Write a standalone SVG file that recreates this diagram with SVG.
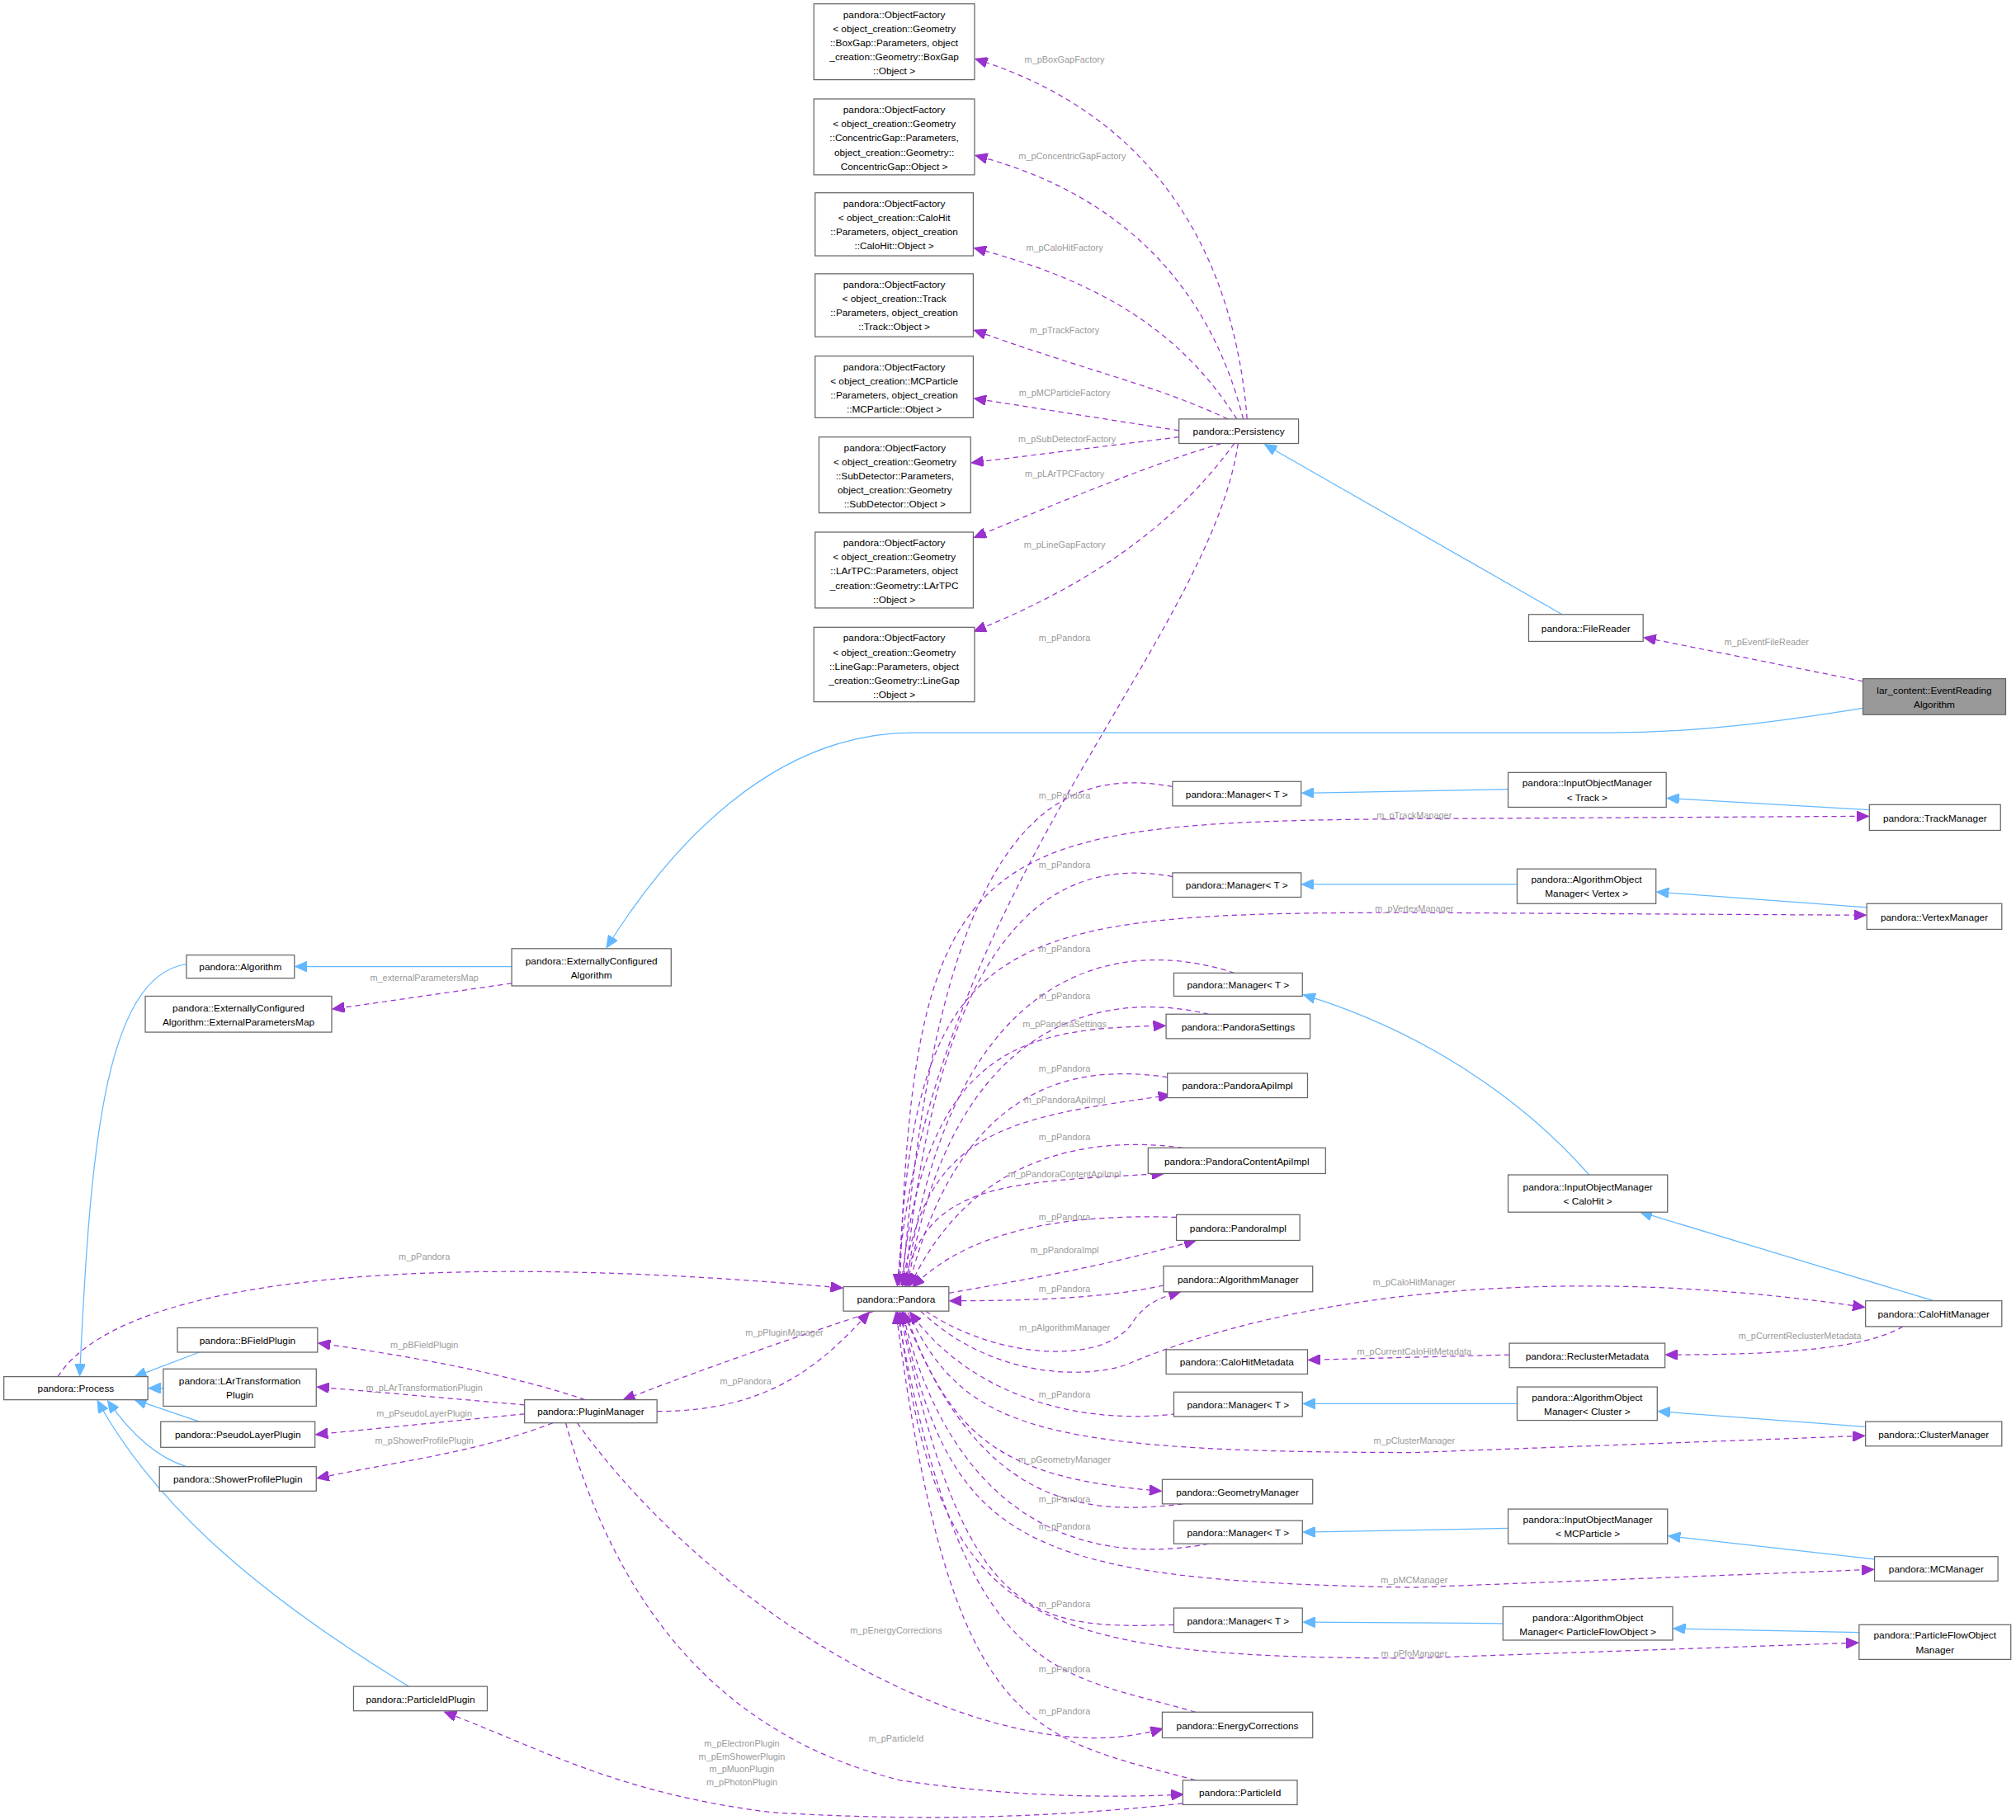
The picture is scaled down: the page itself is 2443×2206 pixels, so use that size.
<svg xmlns="http://www.w3.org/2000/svg" width="2443" height="2206" viewBox="0 0 2443 2206">
<style>
.n rect{fill:#fff;stroke:#666;stroke-width:0.8}
.n text{font-family:"Liberation Sans",Arial,sans-serif;font-size:7.6px;fill:#000;text-anchor:middle}
.b{fill:none;stroke:#63b8ff;stroke-width:0.8}
.p{fill:none;stroke:#9a32cd;stroke-width:0.8;stroke-dasharray:4,3}
.l{font-family:"Liberation Sans",Arial,sans-serif;font-size:7px;fill:#9a9a9a;text-anchor:middle}
</style>
<defs>
<marker id="ab" markerUnits="userSpaceOnUse" markerWidth="10" markerHeight="8" refX="9" refY="4" orient="auto"><path d="M0,0 L9,4 L0,8 z" fill="#63b8ff" stroke="#63b8ff"/></marker>
<marker id="ap" markerUnits="userSpaceOnUse" markerWidth="10" markerHeight="8" refX="9" refY="4" orient="auto"><path d="M0,0 L9,4 L0,8 z" fill="#9a32cd" stroke="#9a32cd"/></marker>
</defs>
<rect width="2443" height="2206" fill="#fff"/>
<g transform="scale(1.558)">
<g id="edges">
<!-- blue inheritance -->
<path class="b" marker-end="url(#ab)" d="M1215,478 L984,346"/>
<path class="b" marker-end="url(#ab)" d="M1449,551 C1380,562 1320,570 1250,570 L710,570 C600,570 520,660 472,737"/>
<path class="b" marker-end="url(#ab)" d="M398,752 L230,752"/>
<path class="b" marker-end="url(#ab)" d="M145,750 C80,760 70,900 62,1070"/>
<path class="b" marker-end="url(#ab)" d="M155,1052 L105,1071"/>
<path class="b" marker-end="url(#ab)" d="M127,1080 L116,1080"/>
<path class="b" marker-end="url(#ab)" d="M155,1106 L105,1089"/>
<path class="b" marker-end="url(#ab)" d="M145,1141 C125,1135 105,1120 84,1090"/>
<path class="b" marker-end="url(#ab)" d="M318,1312 C200,1240 120,1170 76,1090"/>
<path class="b" marker-end="url(#ab)" d="M1173,614 L1013,617"/>
<path class="b" marker-end="url(#ab)" d="M1454,630 L1297,621"/>
<path class="b" marker-end="url(#ab)" d="M1180,688 L1013,688"/>
<path class="b" marker-end="url(#ab)" d="M1452,706 L1289,694"/>
<path class="b" marker-end="url(#ab)" d="M1236,914 C1180,850 1100,800 1014,774"/>
<path class="b" marker-end="url(#ab)" d="M1504,1012 L1276,943"/>
<path class="b" marker-end="url(#ab)" d="M1180,1092 L1014,1092"/>
<path class="b" marker-end="url(#ab)" d="M1451,1110 L1290,1098"/>
<path class="b" marker-end="url(#ab)" d="M1173,1189 L1014,1192"/>
<path class="b" marker-end="url(#ab)" d="M1458,1213 L1298,1195"/>
<path class="b" marker-end="url(#ab)" d="M1169,1263 L1014,1262"/>
<path class="b" marker-end="url(#ab)" d="M1446,1270 L1302,1267"/>
<!-- persistency factories -->
<path class="p" marker-end="url(#ap)" d="M970,326 C960,200 900,90 759,46"/>
<path class="p" marker-end="url(#ap)" d="M967,326 C940,220 870,150 759,121"/>
<path class="p" marker-end="url(#ap)" d="M962,326 C920,260 860,220 758,193"/>
<path class="p" marker-end="url(#ap)" d="M955,326 C900,300 850,290 758,257"/>
<path class="p" marker-end="url(#ap)" d="M917,335 L758,310"/>
<path class="p" marker-end="url(#ap)" d="M917,340 L756,360"/>
<path class="p" marker-end="url(#ap)" d="M950,345 C900,360 850,380 758,418"/>
<path class="p" marker-end="url(#ap)" d="M960,345 C920,400 860,450 758,491"/>
<path class="p" marker-end="url(#ap)" d="M963,345 C940,500 720,700 698,1000"/>
<path class="p" marker-end="url(#ap)" d="M1449,530 L1279,496"/>
<path class="p" marker-end="url(#ap)" d="M398,765 L259,785"/>
<path class="p" marker-end="url(#ap)" d="M45,1071 C90,1000 300,970 655,1002"/>
<path class="p" marker-end="url(#ap)" d="M680,1020 C620,1040 560,1060 485,1089"/>
<path class="p" marker-end="url(#ap)" d="M511,1098 C600,1098 640,1060 676,1021"/>
<path class="p" marker-end="url(#ap)" d="M455,1089 C400,1070 320,1055 248,1045"/>
<path class="p" marker-end="url(#ap)" d="M408,1093 L247,1079"/>
<path class="p" marker-end="url(#ap)" d="M408,1100 L246,1116"/>
<path class="p" marker-end="url(#ap)" d="M430,1107 C370,1130 320,1135 247,1150"/>
<path class="p" marker-end="url(#ap)" d="M449,1107 C530,1220 680,1330 820,1350 C860,1355 885,1350 904,1345"/>
<path class="p" marker-end="url(#ap)" d="M440,1107 C480,1250 560,1350 700,1385 C800,1400 880,1398 920,1396"/>
<path class="p" marker-end="url(#ap)" d="M920,1403 C800,1416 700,1416 600,1410 C480,1395 420,1360 346,1332"/>
<!-- managers -> Pandora and Pandora -> others -->
<path class="p" marker-end="url(#ap)" d="M912,612 C820,595 730,640 702,1000"/>
<path class="p" marker-end="url(#ap)" d="M700,1000 C710,650 760,640 1100,637 L1453,635"/>
<path class="p" marker-end="url(#ap)" d="M912,682 C820,665 730,720 704,1000"/>
<path class="p" marker-end="url(#ap)" d="M699,1000 C710,720 780,710 1100,710 L1451,712"/>
<path class="p" marker-end="url(#ap)" d="M960,757 C880,730 740,740 705,1000"/>
<path class="p" marker-end="url(#ap)" d="M940,789 C860,770 740,790 706,1000"/>
<path class="p" marker-end="url(#ap)" d="M701,1000 C720,810 800,800 906,798"/>
<path class="p" marker-end="url(#ap)" d="M908,838 C850,830 750,830 707,1000"/>
<path class="p" marker-end="url(#ap)" d="M702,1000 C720,880 780,870 910,852"/>
<path class="p" marker-end="url(#ap)" d="M920,893 C860,885 760,890 708,1000"/>
<path class="p" marker-end="url(#ap)" d="M703,1000 C720,920 780,920 905,913"/>
<path class="p" marker-end="url(#ap)" d="M915,947 C850,945 760,950 710,1001"/>
<path class="p" marker-end="url(#ap)" d="M738,1006 C800,995 860,985 930,965"/>
<path class="p" marker-end="url(#ap)" d="M905,1000 C860,1010 800,1012 739,1012"/>
<path class="p" marker-end="url(#ap)" d="M720,1020 C780,1060 860,1060 880,1030 C890,1015 900,1010 918,1005"/>
<path class="p" marker-end="url(#ap)" d="M716,1020 C780,1080 860,1070 880,1060 C1000,1010 1200,980 1450,1017"/>
<path class="p" marker-end="url(#ap)" d="M1174,1054 L1018,1058"/>
<path class="p" marker-end="url(#ap)" d="M1480,1032 C1450,1050 1380,1054 1296,1054"/>
<path class="p" marker-end="url(#ap)" d="M915,1100 C830,1110 750,1080 708,1021"/>
<path class="p" marker-end="url(#ap)" d="M706,1021 C750,1110 800,1130 1100,1130 L1450,1117"/>
<path class="p" marker-end="url(#ap)" d="M704,1021 C740,1120 780,1150 903,1160"/>
<path class="p" marker-end="url(#ap)" d="M920,1170 C840,1180 760,1170 703,1021"/>
<path class="p" marker-end="url(#ap)" d="M940,1201 C840,1220 740,1180 702,1021"/>
<path class="p" marker-end="url(#ap)" d="M701,1021 C740,1200 790,1230 1100,1235 L1457,1221"/>
<path class="p" marker-end="url(#ap)" d="M913,1264 C800,1268 750,1260 700,1021"/>
<path class="p" marker-end="url(#ap)" d="M699,1021 C730,1260 790,1290 1100,1290 L1445,1278"/>
<path class="p" marker-end="url(#ap)" d="M930,1332 C820,1300 750,1310 698,1021"/>
<path class="p" marker-end="url(#ap)" d="M930,1385 C800,1350 740,1350 697,1021"/>
</g>
<g class="l" font-family="Liberation Sans, Arial, sans-serif">
<text x="828" y="49">m_pBoxGapFactory</text>
<text x="834" y="124">m_pConcentricGapFactory</text>
<text x="828" y="195">m_pCaloHitFactory</text>
<text x="828" y="259">m_pTrackFactory</text>
<text x="828" y="308">m_pMCParticleFactory</text>
<text x="830" y="344">m_pSubDetectorFactory</text>
<text x="828" y="371">m_pLArTPCFactory</text>
<text x="828" y="426">m_pLineGapFactory</text>
<text x="828" y="499">m_pPandora</text>
<text x="1374" y="502">m_pEventFileReader</text>
<text x="330" y="763">m_externalParametersMap</text>
<text x="330" y="980">m_pPandora</text>
<text x="610" y="1039">m_pPluginManager</text>
<text x="580" y="1077">m_pPandora</text>
<text x="330" y="1049">m_pBFieldPlugin</text>
<text x="330" y="1082">m_pLArTransformationPlugin</text>
<text x="330" y="1102">m_pPseudoLayerPlugin</text>
<text x="330" y="1123">m_pShowerProfilePlugin</text>
<text x="697" y="1271">m_pEnergyCorrections</text>
<text x="697" y="1355">m_pParticleId</text>
<text x="577" y="1359">m_pElectronPlugin</text>
<text x="577" y="1369">m_pEmShowerPlugin</text>
<text x="577" y="1379">m_pMuonPlugin</text>
<text x="577" y="1389">m_pPhotonPlugin</text>
<text x="828" y="621">m_pPandora</text>
<text x="1100" y="637">m_pTrackManager</text>
<text x="828" y="675">m_pPandora</text>
<text x="1100" y="709">m_pVertexManager</text>
<text x="828" y="741">m_pPandora</text>
<text x="828" y="777">m_pPandora</text>
<text x="828" y="799">m_pPandoraSettings</text>
<text x="828" y="834">m_pPandora</text>
<text x="828" y="858">m_pPandoraApiImpl</text>
<text x="828" y="887">m_pPandora</text>
<text x="828" y="916">m_pPandoraContentApiImpl</text>
<text x="828" y="949">m_pPandora</text>
<text x="828" y="975">m_pPandoraImpl</text>
<text x="828" y="1005">m_pPandora</text>
<text x="828" y="1035">m_pAlgorithmManager</text>
<text x="1100" y="1000">m_pCaloHitManager</text>
<text x="1100" y="1054">m_pCurrentCaloHitMetadata</text>
<text x="1400" y="1042">m_pCurrentReclusterMetadata</text>
<text x="828" y="1087">m_pPandora</text>
<text x="1100" y="1123">m_pClusterManager</text>
<text x="828" y="1138">m_pGeometryManager</text>
<text x="828" y="1169">m_pPandora</text>
<text x="828" y="1190">m_pPandora</text>
<text x="1100" y="1232">m_pMCManager</text>
<text x="828" y="1250">m_pPandora</text>
<text x="1100" y="1289">m_pPfoManager</text>
<text x="828" y="1301">m_pPandora</text>
<text x="828" y="1334">m_pPandora</text>
</g>
<g class="n" id="n_boxgap"><rect x="633" y="3" width="125" height="59"/><text x="695.5" y="14">pandora::ObjectFactory</text><text x="695.5" y="25">&lt; object_creation::Geometry</text><text x="695.5" y="36">::BoxGap::Parameters, object</text><text x="695.5" y="47">_creation::Geometry::BoxGap</text><text x="695.5" y="58">::Object &gt;</text></g>
<g class="n" id="n_concgap"><rect x="633" y="77" width="125" height="59"/><text x="695.5" y="88">pandora::ObjectFactory</text><text x="695.5" y="99">&lt; object_creation::Geometry</text><text x="695.5" y="110">::ConcentricGap::Parameters,</text><text x="695.5" y="121">object_creation::Geometry::</text><text x="695.5" y="132">ConcentricGap::Object &gt;</text></g>
<g class="n" id="n_calohitf"><rect x="634" y="150" width="123" height="49"/><text x="695.5" y="161">pandora::ObjectFactory</text><text x="695.5" y="172">&lt; object_creation::CaloHit</text><text x="695.5" y="183">::Parameters, object_creation</text><text x="695.5" y="194">::CaloHit::Object &gt;</text></g>
<g class="n" id="n_trackf"><rect x="634" y="213" width="123" height="49"/><text x="695.5" y="224">pandora::ObjectFactory</text><text x="695.5" y="235">&lt; object_creation::Track</text><text x="695.5" y="246">::Parameters, object_creation</text><text x="695.5" y="257">::Track::Object &gt;</text></g>
<g class="n" id="n_mcf"><rect x="634" y="277" width="123" height="48"/><text x="695.5" y="288">pandora::ObjectFactory</text><text x="695.5" y="299">&lt; object_creation::MCParticle</text><text x="695.5" y="310">::Parameters, object_creation</text><text x="695.5" y="321">::MCParticle::Object &gt;</text></g>
<g class="n" id="n_subdet"><rect x="637" y="340" width="118" height="59"/><text x="696" y="351">pandora::ObjectFactory</text><text x="696" y="362">&lt; object_creation::Geometry</text><text x="696" y="373">::SubDetector::Parameters,</text><text x="696" y="384">object_creation::Geometry</text><text x="696" y="395">::SubDetector::Object &gt;</text></g>
<g class="n" id="n_lartpc"><rect x="634" y="414" width="123" height="59"/><text x="695.5" y="425">pandora::ObjectFactory</text><text x="695.5" y="436">&lt; object_creation::Geometry</text><text x="695.5" y="447">::LArTPC::Parameters, object</text><text x="695.5" y="458">_creation::Geometry::LArTPC</text><text x="695.5" y="469">::Object &gt;</text></g>
<g class="n" id="n_linegap"><rect x="633" y="488" width="125" height="58"/><text x="695.5" y="499">pandora::ObjectFactory</text><text x="695.5" y="510">&lt; object_creation::Geometry</text><text x="695.5" y="521">::LineGap::Parameters, object</text><text x="695.5" y="532">_creation::Geometry::LineGap</text><text x="695.5" y="543">::Object &gt;</text></g>
<g class="n" id="n_persistency"><rect x="917" y="326" width="93" height="19"/><text x="963.5" y="338.5">pandora::Persistency</text></g>
<g class="n" id="n_filereader"><rect x="1189" y="478" width="89" height="21"/><text x="1233.5" y="491.5">pandora::FileReader</text></g>
<g class="n" id="n_era"><rect x="1449" y="528" width="111" height="28" style="fill:#999"/><text x="1504.5" y="540">lar_content::EventReading</text><text x="1504.5" y="551">Algorithm</text></g>
<g class="n" id="n_eca"><rect x="398" y="738" width="124" height="29"/><text x="460" y="750">pandora::ExternallyConfigured</text><text x="460" y="761">Algorithm</text></g>
<g class="n" id="n_algorithm"><rect x="145" y="743" width="84" height="18"/><text x="187" y="755">pandora::Algorithm</text></g>
<g class="n" id="n_epm"><rect x="113" y="775" width="145" height="28"/><text x="185.5" y="787">pandora::ExternallyConfigured</text><text x="185.5" y="798">Algorithm::ExternalParametersMap</text></g>
<g class="n" id="n_process"><rect x="3" y="1071" width="112" height="18"/><text x="59" y="1083">pandora::Process</text></g>
<g class="n" id="n_bfield"><rect x="138" y="1033" width="109" height="19"/><text x="192.5" y="1045.5">pandora::BFieldPlugin</text></g>
<g class="n" id="n_lartrans"><rect x="127" y="1065" width="119" height="29"/><text x="186.5" y="1077">pandora::LArTransformation</text><text x="186.5" y="1088">Plugin</text></g>
<g class="n" id="n_pseudo"><rect x="125" y="1106" width="120" height="20"/><text x="185" y="1119">pandora::PseudoLayerPlugin</text></g>
<g class="n" id="n_shower"><rect x="124" y="1141" width="122" height="19"/><text x="185" y="1153.5">pandora::ShowerProfilePlugin</text></g>
<g class="n" id="n_pidplugin"><rect x="275" y="1312" width="104" height="19"/><text x="327" y="1324.5">pandora::ParticleIdPlugin</text></g>
<g class="n" id="n_pluginmgr"><rect x="408" y="1089" width="103" height="18"/><text x="459.5" y="1101">pandora::PluginManager</text></g>
<g class="n" id="n_pandora"><rect x="656" y="1001" width="82" height="19"/><text x="697" y="1013.5">pandora::Pandora</text></g>
<g class="n" id="n_mgr1"><rect x="912" y="608" width="100" height="19"/><text x="962" y="620.5">pandora::Manager&lt; T &gt;</text></g>
<g class="n" id="n_iomtrack"><rect x="1173" y="601" width="123" height="27"/><text x="1234.5" y="612">pandora::InputObjectManager</text><text x="1234.5" y="623">&lt; Track &gt;</text></g>
<g class="n" id="n_trackmgr"><rect x="1454" y="626" width="102" height="20"/><text x="1505" y="639">pandora::TrackManager</text></g>
<g class="n" id="n_mgr2"><rect x="912" y="679" width="100" height="19"/><text x="962" y="691.5">pandora::Manager&lt; T &gt;</text></g>
<g class="n" id="n_aomvertex"><rect x="1180" y="676" width="108" height="27"/><text x="1234" y="687">pandora::AlgorithmObject</text><text x="1234" y="698">Manager&lt; Vertex &gt;</text></g>
<g class="n" id="n_vertexmgr"><rect x="1452" y="703" width="105" height="20"/><text x="1504.5" y="716">pandora::VertexManager</text></g>
<g class="n" id="n_mgr3"><rect x="913" y="757" width="100" height="18"/><text x="963" y="769">pandora::Manager&lt; T &gt;</text></g>
<g class="n" id="n_settings"><rect x="907" y="789" width="112" height="19"/><text x="963" y="801.5">pandora::PandoraSettings</text></g>
<g class="n" id="n_apiimpl"><rect x="908" y="835" width="109" height="19"/><text x="962.5" y="847.5">pandora::PandoraApiImpl</text></g>
<g class="n" id="n_capiimpl"><rect x="893" y="893" width="138" height="20"/><text x="962" y="906">pandora::PandoraContentApiImpl</text></g>
<g class="n" id="n_pimpl"><rect x="915" y="945" width="96" height="20"/><text x="963" y="958">pandora::PandoraImpl</text></g>
<g class="n" id="n_algmgr"><rect x="905" y="985" width="116" height="20"/><text x="963" y="998">pandora::AlgorithmManager</text></g>
<g class="n" id="n_iomcalo"><rect x="1173" y="914" width="124" height="29"/><text x="1235" y="926">pandora::InputObjectManager</text><text x="1235" y="937">&lt; CaloHit &gt;</text></g>
<g class="n" id="n_calomgr"><rect x="1451" y="1012" width="106" height="20"/><text x="1504" y="1025">pandora::CaloHitManager</text></g>
<g class="n" id="n_calometa"><rect x="907" y="1050" width="110" height="19"/><text x="962" y="1062.5">pandora::CaloHitMetadata</text></g>
<g class="n" id="n_recluster"><rect x="1174" y="1045" width="121" height="19"/><text x="1234.5" y="1057.5">pandora::ReclusterMetadata</text></g>
<g class="n" id="n_mgr4"><rect x="913" y="1083" width="100" height="19"/><text x="963" y="1095.5">pandora::Manager&lt; T &gt;</text></g>
<g class="n" id="n_aomcluster"><rect x="1180" y="1079" width="109" height="26"/><text x="1234.5" y="1090">pandora::AlgorithmObject</text><text x="1234.5" y="1101">Manager&lt; Cluster &gt;</text></g>
<g class="n" id="n_clustermgr"><rect x="1451" y="1106" width="106" height="19"/><text x="1504" y="1118.5">pandora::ClusterManager</text></g>
<g class="n" id="n_geommgr"><rect x="904" y="1151" width="117" height="19"/><text x="962.5" y="1163.5">pandora::GeometryManager</text></g>
<g class="n" id="n_mgr5"><rect x="913" y="1183" width="100" height="18"/><text x="963" y="1195">pandora::Manager&lt; T &gt;</text></g>
<g class="n" id="n_iommc"><rect x="1173" y="1174" width="124" height="27"/><text x="1235" y="1185">pandora::InputObjectManager</text><text x="1235" y="1196">&lt; MCParticle &gt;</text></g>
<g class="n" id="n_mcmgr"><rect x="1458" y="1211" width="96" height="19"/><text x="1506" y="1223.5">pandora::MCManager</text></g>
<g class="n" id="n_mgr6"><rect x="913" y="1251" width="100" height="19"/><text x="963" y="1263.5">pandora::Manager&lt; T &gt;</text></g>
<g class="n" id="n_aompfo"><rect x="1169" y="1250" width="132" height="26"/><text x="1235" y="1261">pandora::AlgorithmObject</text><text x="1235" y="1272">Manager&lt; ParticleFlowObject &gt;</text></g>
<g class="n" id="n_pfomgr"><rect x="1446" y="1264" width="118" height="27"/><text x="1505" y="1275">pandora::ParticleFlowObject</text><text x="1505" y="1286">Manager</text></g>
<g class="n" id="n_energycorr"><rect x="904" y="1332" width="117" height="20"/><text x="962.5" y="1345">pandora::EnergyCorrections</text></g>
<g class="n" id="n_particleid"><rect x="920" y="1385" width="89" height="19"/><text x="964.5" y="1397.5">pandora::ParticleId</text></g>
</g>
</svg>
